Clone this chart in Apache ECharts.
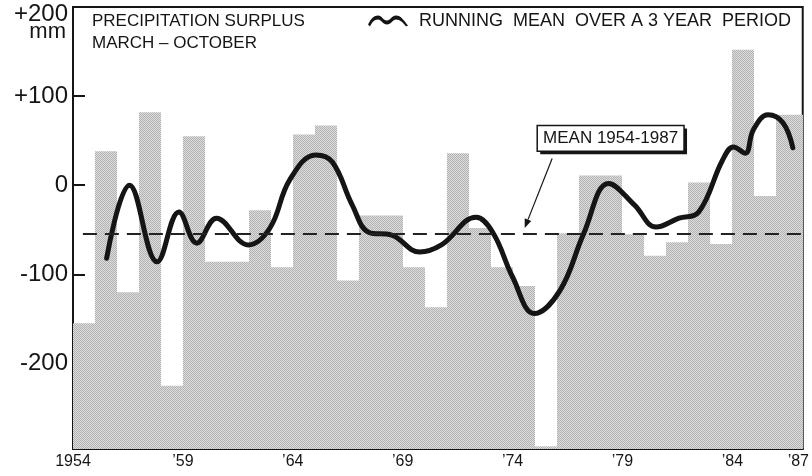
<!DOCTYPE html>
<html>
<head>
<meta charset="utf-8">
<script src="https://cdn.jsdelivr.net/npm/echarts@6/dist/echarts.min.js"></script>
<style>html,body{margin:0;padding:0;background:#fff}#c{width:812px;height:476px}</style>
</head>
<body>
<div id="c"></div>
<script>
// ---- data ----
const years = [1954,1955,1956,1957,1958,1959,1960,1961,1962,1963,1964,1965,1966,1967,1968,1969,1970,
               1971,1972,1973,1974,1975,1976,1977,1978,1979,1980,1981,1982,1983,1984,1985,1986,1987];
const surplus = [-155,38,-120,82,-225,55,-86,-86,-28,-92,57,67,-107,-34,-34,-92,-137,
                 36,-48,-92,-113,-293,-54,11,11,-55,-79,-64,3,-66,152,-12,79,79];
// running mean curve (x in years)
const meanYears = [1955.53,1956.57,1957.83,1958.82,1959.63,1960.53,1961.97,1962.96,1963.86,1965.04,
                   1965.80,1966.70,1967.47,1968.50,1969.77,1970.76,1972.33,1973.10,1974.00,1974.99,
                   1976.16,1977.24,1978.37,1979.54,1980.53,1981.57,1982.47,1983.55,1984.05,1984.59,
                   1984.95,1985.62,1986.30,1986.75];
const meanValues = [-82,0,-86,-30,-65,-37,-67,-48,6,34,
                    26,-22,-53,-56,-75,-67,-36,-53,-103,-144,
                    -118,-54,2,-22,-47,-37,-30,28,43,36,
                    62,79,70,42];
const longTermMean = -55;
const yTickValues = [-200,-100,0,100,200];
const xTickValues = [1954,1959,1964,1969,1974,1979,1984,1987];
const xTickLabels = ['1954','\u201959','\u201964','\u201969','\u201974','\u201979','\u201984','\u201987'];
const titleText = 'PRECIPITATION SURPLUS\nMARCH \u2013 OCTOBER';
const unitText = 'mm';
const seriesName = 'RUNNING  MEAN  OVER A 3 YEAR  PERIOD';
const meanLabel = 'MEAN 1954-1987';

const X_MIN = 1954, X_MAX = 1987.2, Y_MIN = -296, Y_MAX = 200;
const FONT = '"Liberation Sans", Arial, Helvetica, sans-serif';
const INK = '#151515';

// stipple pattern
const pc = document.createElement('canvas'); pc.width = 2; pc.height = 2;
const g = pc.getContext('2d');
g.fillStyle = '#dcdcdc'; g.fillRect(0,0,2,2);
g.fillStyle = '#b3b3b3'; g.fillRect(0,0,1,1); g.fillRect(1,1,1,1);
const stipple = {image: pc, repeat: 'repeat'};

const chart = echarts.init(document.getElementById('c'), null, {renderer: 'canvas'});

const option = {
  animation: false,
  backgroundColor: '#fff',
  textStyle: {fontFamily: FONT, color: INK},
  grid: {left: 73, right: 2, top: 7, bottom: 27, show: true, borderColor: INK, borderWidth: 2, backgroundColor: 'transparent'},
  title: [
    {text: titleText, left: 92, top: 10, padding: 0,
     textStyle: {fontSize: 17, lineHeight: 22, fontWeight: 'normal', color: INK, fontFamily: FONT}},
    {text: unitText, right: 746, top: 21, padding: 0,
     textStyle: {fontSize: 22, lineHeight: 22, fontWeight: 'normal', color: INK, fontFamily: FONT}}
  ],
  legend: {
    left: 368, top: 12, padding: 0, itemWidth: 40, itemHeight: 12,
    selectedMode: false,
    textStyle: {fontSize: 18, color: INK, fontFamily: FONT, padding: [0,0,0,6]},
    data: [{name: seriesName,
      icon: 'path://M0,10 C3,4 6,1 10,1 C14,1 15,6 19,6 C22,6 24,1 28,1 C33,1 36,6 40,11 L38,12 C35,8 32,5 28,5 C25,5 23,10 19,10 C15,10 13,5 10,5 C6,5 4,8 2,12 Z'}]
  },
  xAxis: {
    type: 'value', min: X_MIN, max: X_MAX,
    splitLine: {show: false},
    axisLine: {show: true, onZero: false, lineStyle: {color: INK, width: 2}},
    axisTick: {show: true, inside: true, length: 10, customValues: xTickValues, lineStyle: {color: INK, width: 2}},
    axisLabel: {customValues: xTickValues, margin: 5, fontSize: 16, color: INK, fontFamily: FONT,
      formatter: v => xTickLabels[xTickValues.indexOf(Math.round(v))] || ''}
  },
  yAxis: {
    type: 'value', min: Y_MIN, max: Y_MAX,
    splitLine: {show: false},
    axisLine: {show: true, onZero: false, lineStyle: {color: INK, width: 2}},
    axisTick: {show: true, inside: true, length: 12, customValues: yTickValues.filter(v => v < Y_MAX), lineStyle: {color: INK, width: 2}},
    axisLabel: {customValues: yTickValues, margin: 5, fontSize: 24, color: INK, fontFamily: FONT,
      formatter: v => v === Y_MAX ? '{t|+' + v + '}' : (v > 0 ? '+' + v : String(v)),
      rich: {t: {fontSize: 24, fontFamily: FONT, color: INK, padding: [14,0,0,0]}}}
  },
  series: [
    {
      type: 'custom', name: 'surplus', clip: true, z: 1,
      data: years.map((y, i) => [y, surplus[i]]),
      renderItem: function (params, api) {
        const yr = api.value(0), v = api.value(1);
        const a = api.coord([yr, v]);
        const b = api.coord([yr + 1, Y_MIN]);
        const cs = params.coordSys;
        const left = Math.round(a[0]);
        const right = Math.round(Math.min(b[0], cs.x + cs.width));
        return {type: 'rect', shape: {x: left, y: a[1], width: right - left, height: b[1] - a[1]},
                style: {fill: stipple, stroke: null}};
      }
    },
    {
      type: 'line', name: seriesName, z: 3,
      data: meanYears.map((y, i) => [y, meanValues[i]]),
      smooth: 0.4, showSymbol: false, symbol: 'none',
      lineStyle: {color: INK, width: 5, cap: 'round', join: 'round'},
      itemStyle: {color: INK},
      markLine: {
        silent: true, symbol: ['none','none'], label: {show: false},
        lineStyle: {type: [14, 8], width: 2, color: '#222'},
        data: [[{coord: [1954.45, longTermMean]}, {coord: [X_MAX, longTermMean]}]]
      }
    }
  ]
};
chart.setOption(option);

// annotation for long-term mean, anchored in data coordinates
const px = (x, y) => chart.convertToPixel({gridIndex: 0}, [x, y]);
const tl = px(1975.12, 67), br = px(1981.8, 38);
const tail = px(1975.8, 30), tip = px(1974.55, -48);
const ang = Math.atan2(tip[1] - tail[1], tip[0] - tail[0]);
const ah = 9, aw = 3.5;
const back = [tip[0] - ah * Math.cos(ang), tip[1] - ah * Math.sin(ang)];
const nx = -Math.sin(ang), ny = Math.cos(ang);
chart.setOption({
  graphic: [
    {type: 'rect', z: 100, shape: {x: tl[0] + 3, y: tl[1] + 3, width: br[0] - tl[0], height: br[1] - tl[1]}, style: {fill: INK}},
    {type: 'rect', z: 101, shape: {x: tl[0], y: tl[1], width: br[0] - tl[0], height: br[1] - tl[1]}, style: {fill: '#fff', stroke: INK, lineWidth: 1.5}},
    {type: 'text', z: 102, x: (tl[0] + br[0]) / 2, y: (tl[1] + br[1]) / 2,
     style: {text: meanLabel, fill: INK, font: '17px ' + FONT, align: 'center', verticalAlign: 'middle'}},
    {type: 'line', z: 100, shape: {x1: tail[0], y1: tail[1], x2: back[0], y2: back[1]}, style: {stroke: INK, lineWidth: 1.2}},
    {type: 'polygon', z: 100, shape: {points: [tip, [back[0] + nx * aw, back[1] + ny * aw], [back[0] - nx * aw, back[1] - ny * aw]]}, style: {fill: INK}}
  ]
});
</script>
</body>
</html>
